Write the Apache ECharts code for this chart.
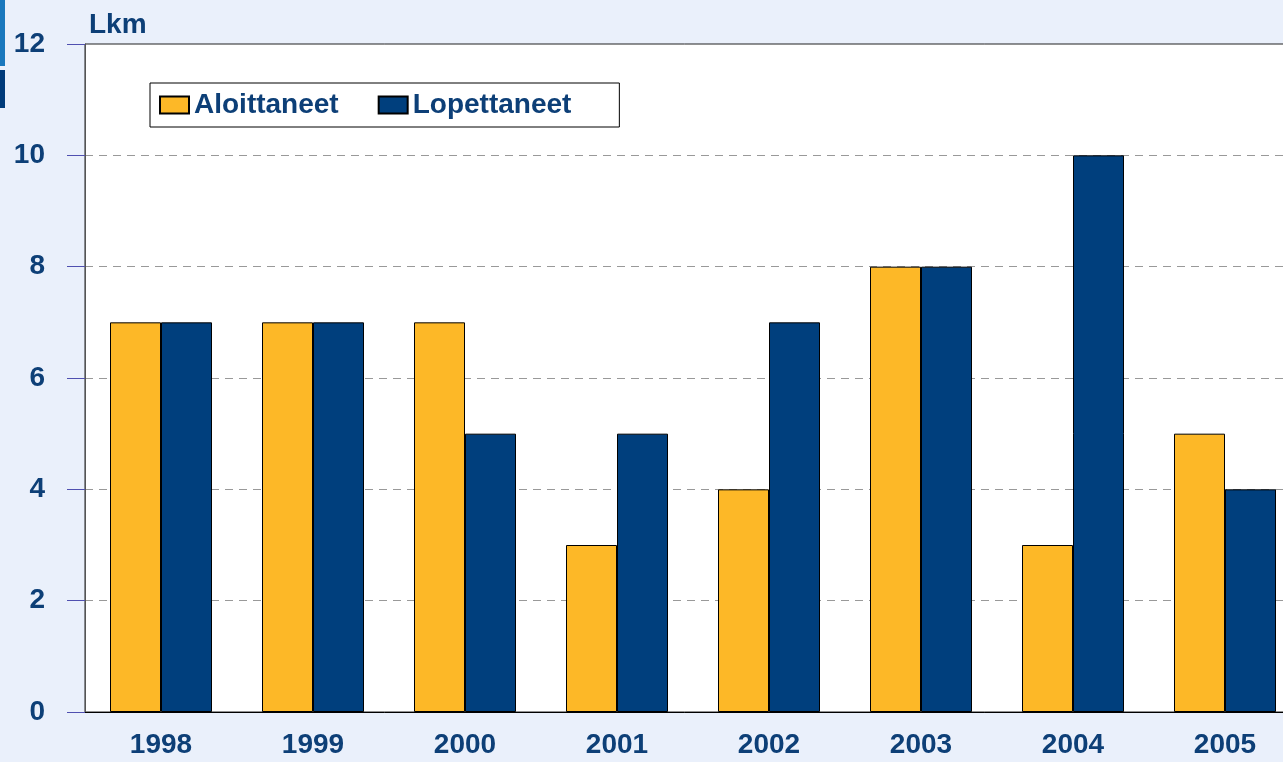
<!DOCTYPE html>
<html>
<head>
<meta charset="utf-8">
<script src="https://cdn.jsdelivr.net/npm/echarts@6/dist/echarts.min.js"></script>
<style>
  html, body { margin: 0; padding: 0; background: #eaf0fb; }
  #chart { width: 1283px; height: 762px; }
</style>
</head>
<body>
<div id="chart"></div>
<script>
const years = ['1998', '1999', '2000', '2001', '2002', '2003', '2004', '2005']
const aloittaneet = [7, 7, 7, 3, 4, 8, 3, 5]
const lopettaneet = [7, 7, 5, 5, 7, 8, 10, 4]

const textColor = '#0d3f77'
const font = '"Liberation Sans", Arial, sans-serif'

const myChart = echarts.init(document.getElementById('chart'))
const option = {
  backgroundColor: '#eaf0fb',
  textStyle: { fontFamily: font },
  title: {
    text: 'Lkm',
    left: 84,
    top: 6,
    textStyle: { color: textColor, fontSize: 28, fontWeight: 'bold', fontFamily: font }
  },
  // vasemman reunan koristepalkit
  graphic: [
    { type: 'rect', left: 0, top: 0, shape: { width: 5, height: 66 }, style: { fill: '#1a78bd' } },
    { type: 'rect', left: 0, top: 70, shape: { width: 5, height: 38 }, style: { fill: '#003b7a' } }
  ],
  legend: {
    left: 150,
    top: 83,
    padding: [8, 48, 8, 9],
    itemWidth: 29,
    itemHeight: 17,
    itemGap: 39,
    borderColor: '#000',
    borderWidth: 1,
    backgroundColor: '#fff',
    icon: 'rect',
    data: ['Aloittaneet', 'Lopettaneet'],
    textStyle: { color: textColor, fontSize: 28, fontWeight: 'bold', fontFamily: font }
  },
  grid: {
    left: 85,
    top: 44,
    width: 1216,
    bottom: 50,
    outerBoundsMode: 'none',
    containLabel: false,
    show: true,
    backgroundColor: '#fff',
    borderColor: '#222',
    borderWidth: 1
  },
  xAxis: {
    type: 'category',
    data: years,
    axisLine: { lineStyle: { color: '#000', width: 1 } },
    axisTick: { show: false },
    axisLabel: { color: textColor, fontSize: 28, fontWeight: 'bold', margin: 19, fontFamily: font }
  },
  yAxis: {
    type: 'value',
    min: 0,
    max: 12,
    interval: 2,
    axisLine: { show: true, lineStyle: { color: '#555', width: 1 } },
    axisTick: { show: true, length: 18, lineStyle: { color: '#5050b0', width: 1 } },
    axisLabel: { color: textColor, fontSize: 28, fontWeight: 'bold', margin: 40, fontFamily: font },
    splitLine: { showMaxLine: false, lineStyle: { color: '#999', type: [8, 6], width: 1 } }
  },
  series: [
    {
      name: 'Aloittaneet',
      type: 'bar',
      data: aloittaneet,
      barWidth: 51,
      barGap: '0%',
      itemStyle: { color: '#fdb827', borderColor: '#000', borderWidth: 1 }
    },
    {
      name: 'Lopettaneet',
      type: 'bar',
      data: lopettaneet,
      barWidth: 51,
      barGap: '0%',
      itemStyle: { color: '#003f7d', borderColor: '#000', borderWidth: 1 }
    }
  ]
}
myChart.setOption(option)
</script>
</body>
</html>
